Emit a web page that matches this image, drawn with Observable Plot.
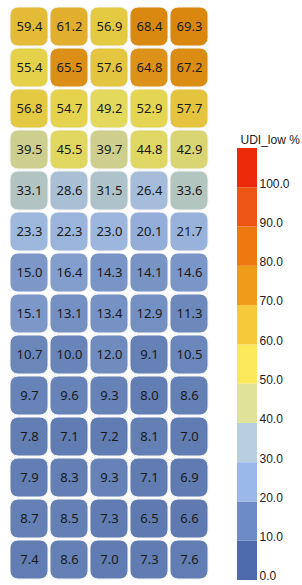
<!DOCTYPE html>
<html>
<head>
<meta charset="utf-8">
<script src="https://cdn.jsdelivr.net/npm/d3@7"></script>
<script src="https://cdn.jsdelivr.net/npm/@observablehq/plot@0.6"></script>
<style>
  html, body { margin: 0; padding: 0; background: #fff; }
  #wrap { position: relative; width: 302px; height: 585px; }
  #heat { position: absolute; left: 0; top: 0; }
  #legend { position: absolute; left: 215px; top: 0; }
</style>
</head>
<body>
<div id="wrap"><div id="heat"></div><div id="legend"></div></div>
<script>
// Heatmap values, row by row (top to bottom), 5 columns each
const rowValues = [
  [59.4, 61.2, 56.9, 68.4, 69.3],
  [55.4, 65.5, 57.6, 64.8, 67.2],
  [56.8, 54.7, 49.2, 52.9, 57.7],
  [39.5, 45.5, 39.7, 44.8, 42.9],
  [33.1, 28.6, 31.5, 26.4, 33.6],
  [23.3, 22.3, 23.0, 20.1, 21.7],
  [15.0, 16.4, 14.3, 14.1, 14.6],
  [15.1, 13.1, 13.4, 12.9, 11.3],
  [10.7, 10.0, 12.0, 9.1, 10.5],
  [9.7, 9.6, 9.3, 8.0, 8.6],
  [7.8, 7.1, 7.2, 8.1, 7.0],
  [7.9, 8.3, 9.3, 7.1, 6.9],
  [8.7, 8.5, 7.3, 6.5, 6.6],
  [7.4, 8.6, 7.0, 7.3, 7.6]
];
const columns = [0, 1, 2, 3, 4];
const rows = d3.range(rowValues.length);

// Cell colour stops
const cellStops = [0, 10, 15, 20, 25, 30, 35, 40, 45, 50, 55, 60, 65, 70, 100];
const cellColors = ["#4f68a3", "#6884b8", "#7c97c8", "#94aed9", "#a2bbdf", "#abc0d0", "#b6c7b8",
                    "#cfd08a", "#e0d862", "#e3d95c", "#e5d34c", "#e3b834", "#dc9018", "#d8860c", "#d02a08"];

// Legend bins
const legendTitle = "UDI_low %";
const legendEdges = [0, 10, 20, 30, 40, 50, 60, 70, 80, 90, 100, 110];
const legendColors = ["#4c6aac", "#6d8bc6", "#9bb8ea", "#b8cfdf", "#e0e29a", "#fbe85b",
                      "#f6c93a", "#f09c1b", "#ee7a0f", "#ed5512", "#ec2a0a"];
const legendTicks = [0, 10, 20, 30, 40, 50, 60, 70, 80, 90, 100];

const table = [];
rowValues.forEach((r, i) => r.forEach((v, j) => table.push({row: i, col: j, v})));

const heat = Plot.plot({
  width: 215,
  height: 585,
  marginLeft: 7,
  marginRight: 4,
  marginTop: 6,
  marginBottom: 5,
  x: {type: "band", domain: columns, padding: 0, axis: null},
  y: {type: "band", domain: rows, padding: 0, axis: null},
  color: {type: "linear", domain: cellStops, range: cellColors},
  style: {fontFamily: "'Noto Sans', 'Open Sans', sans-serif"},
  marks: [
    Plot.cell(table, {x: "col", y: "row", fill: "v", inset: 1, rx: 8, ry: 8,
                      stroke: "#f4f4f4", strokeWidth: 1}),
    Plot.text(table, {x: "col", y: "row", text: d => d.v.toFixed(1),
                      fill: "#1a1a1a", fontSize: 13})
  ]
});
document.getElementById("heat").appendChild(heat);

const bins = legendColors.map((c, i) => ({y1: legendEdges[i], y2: legendEdges[i + 1], c}));

const legend = Plot.plot({
  width: 87,
  height: 585,
  marginLeft: 22,
  marginRight: 45,
  marginTop: 148,
  marginBottom: 5,
  y: {domain: [0, 110]},
  style: {fontFamily: "'Liberation Sans', Arial, sans-serif", fontSize: "12px", color: "#222"},
  marks: [
    Plot.rectY(bins, {y1: "y1", y2: "y2", fill: "c"}),
    Plot.axisY(legendTicks, {anchor: "right", tickSize: 0, tickPadding: 2,
                             tickFormat: d3.format(".1f"), dy: -4, fontSize: 12, fill: "#222"}),
    Plot.text([legendTitle], {frameAnchor: "top-left", dx: 3, dy: -13, textAnchor: "start",
                              fontSize: 12, fill: "#222"})
  ]
});
document.getElementById("legend").appendChild(legend);
</script>
</body>
</html>
